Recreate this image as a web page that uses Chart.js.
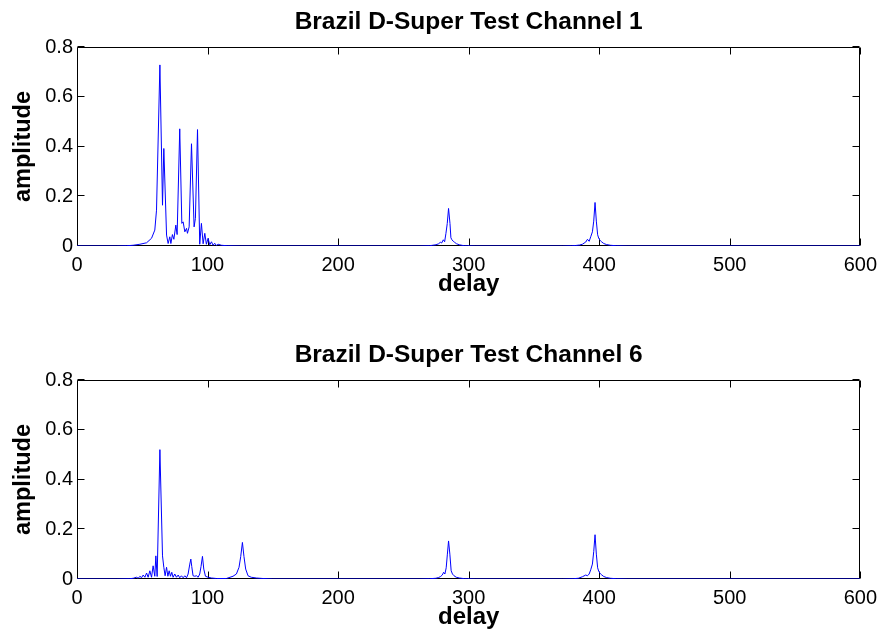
<!DOCTYPE html>
<html>
<head>
<meta charset="utf-8">
<title>Brazil D-Super Test</title>
<script src="https://cdn.jsdelivr.net/npm/chart.js@4.4.1/dist/chart.umd.min.js"></script>
<style>
  html, body { margin: 0; padding: 0; background: #fff; }
  #wrap { position: relative; width: 884px; height: 636px; overflow: hidden; }
  .panel { position: absolute; left: 0; width: 884px; height: 303px; }
  #p1 { top: 0; }
  #p2 { top: 333px; }
</style>
</head>
<body>
<div id="wrap">
  <div class="panel" id="p1"><canvas id="c1" width="884" height="303"></canvas></div>
  <div class="panel" id="p2"><canvas id="c2" width="884" height="303"></canvas></div>
</div>
<script>
// Channel 1 impulse response (delay in samples, amplitude)
const delay1 = [0, 30, 38, 43, 48.2, 53.3, 57.1, 59.6, 60.9, 63.5, 65.5, 66.5, 68.6, 69.8, 71.1, 71.9,
  73.1, 74.2, 75.7, 76.7, 78.7, 80.3, 81.3, 82.6, 83.9, 84.6, 85.9, 87.7, 89.7, 90.7, 92.3, 94,
  95.3, 96.6, 97.9, 99.1, 100.4, 101.7, 103, 104.2, 105.5, 106.8, 108.1, 110.6, 115, 125,
  262, 269.9, 272.4, 275, 277, 278.3, 279.3, 280.6, 281.6, 282.6, 283.6, 284.6, 285.7, 286.4,
  287.2, 288.2, 289.2, 290.7, 292.8, 296.6, 305,
  372, 379, 382, 385, 387.1, 389.7, 391, 392.3, 393.5, 394.8, 395.8, 396.8, 397.8, 398.8, 399.7,
  400.8, 402, 403.5, 405.5, 408.5, 413, 422, 600];
const amp1 = [0, 0, 0.001, 0.003, 0.007, 0.013, 0.031, 0.064, 0.144, 0.728, 0.164, 0.392, 0.044, 0.01, 0.037, 0.01,
  0.046, 0.027, 0.084, 0.046, 0.471, 0.091, 0.097, 0.057, 0.071, 0.051, 0.077, 0.411, 0.077, 0.111, 0.468, 0.007,
  0.091, 0.009, 0.051, 0.007, 0.031, 0.005, 0.017, 0.003, 0.011, 0.002, 0.007, 0.003, 0.001, 0,
  0, 0.001, 0.003, 0.005, 0.009, 0.015, 0.012, 0.025, 0.017, 0.051, 0.09, 0.151, 0.09, 0.033,
  0.025, 0.019, 0.015, 0.009, 0.005, 0.001, 0,
  0, 0.001, 0.002, 0.004, 0.007, 0.016, 0.027, 0.019, 0.037, 0.057, 0.1, 0.175, 0.1, 0.045, 0.03,
  0.022, 0.016, 0.01, 0.006, 0.003, 0.001, 0, 0];

// Channel 6 impulse response
const delay6 = [0, 30, 40, 43.1, 45.6, 46.9, 48.2, 49.4, 50.7, 52, 53.3, 54.5, 55.8, 57.1, 58.3, 59.6,
  60.4, 61.4, 63.5, 65.5, 66.5, 67.5, 68.6, 69.6, 70.6, 71.6, 72.6, 73.6, 74.9, 76.2, 77.5, 78.7,
  80, 81.3, 82.6, 83.9, 85.1, 86.4, 87.2, 87.9, 88.9, 90.2, 91.5, 92.8, 94, 95, 96.1, 97.1, 98.4,
  100.4, 103, 106.8, 114.4, 119.5, 122.1, 124.1, 125.4, 126.7, 127.9, 129.2, 131, 133.5, 137.4, 142.4, 150,
  262, 270, 274.9, 277, 278.5, 279.8, 280.8, 281.8, 282.8, 283.7, 284.6, 285.6, 286.6, 287.6, 288.8,
  290.5, 293, 297, 305,
  372, 380, 384, 387.1, 389.7, 391, 392.3, 393.5, 394.8, 395.8, 396.8, 397.8, 398.8, 399.7, 400.8,
  402, 403.5, 405.5, 408.5, 413, 422, 600];
const amp6 = [0, 0, 0.001, 0.003, 0.007, 0.003, 0.011, 0.005, 0.016, 0.007, 0.024, 0.007, 0.033, 0.007, 0.053, 0.011,
  0.093, 0.01, 0.52, 0.093, 0.047, 0.013, 0.047, 0.011, 0.033, 0.011, 0.027, 0.007, 0.02, 0.007, 0.016, 0.005,
  0.013, 0.005, 0.013, 0.005, 0.02, 0.06, 0.08, 0.05, 0.013, 0.011, 0.013, 0.007, 0.02, 0.05, 0.091, 0.04, 0.011,
  0.007, 0.004, 0.002, 0.002, 0.011, 0.02, 0.047, 0.09, 0.147, 0.09, 0.04, 0.013, 0.007, 0.004, 0.002, 0,
  0, 0.001, 0.003, 0.006, 0.01, 0.016, 0.027, 0.02, 0.045, 0.1, 0.153, 0.1, 0.033, 0.02, 0.013,
  0.007, 0.004, 0.001, 0,
  0, 0.001, 0.003, 0.009, 0.016, 0.013, 0.02, 0.037, 0.06, 0.11, 0.178, 0.1, 0.045, 0.03, 0.022,
  0.016, 0.01, 0.006, 0.003, 0.001, 0, 0];

// Axis ticks
const xTicks = [0, 100, 200, 300, 400, 500, 600];
const yTicks = [0, 0.2, 0.4, 0.6, 0.8];

const FONT = '"Liberation Sans", Arial, Helvetica, sans-serif';

// Closed box with inward-pointing tick marks on all four sides
const boxedAxes = {
  id: 'boxedAxes',
  beforeDatasetsDraw(chart) {
    const { ctx, chartArea: a, scales: { x, y } } = chart;
    const len = 7;
    ctx.save();
    ctx.strokeStyle = '#000';
    ctx.lineWidth = 1;
    ctx.beginPath();
    const L = Math.round(a.left) + 0.5, R = Math.round(a.right) - 0.5;
    const T = Math.round(a.top) + 0.5, B = Math.round(a.bottom) - 0.5;
    ctx.rect(L, T, R - L, B - T);
    xTicks.forEach(v => {
      const px = Math.round(x.getPixelForValue(v)) + 0.5;
      ctx.moveTo(px, B); ctx.lineTo(px, B - len);
      ctx.moveTo(px, T); ctx.lineTo(px, T + len);
    });
    yTicks.forEach(v => {
      const py = Math.round(y.getPixelForValue(v)) - 0.5;
      ctx.moveTo(L, py); ctx.lineTo(L + len, py);
      ctx.moveTo(R, py); ctx.lineTo(R - len, py);
    });
    ctx.stroke();
    ctx.restore();
  }
};

function makeChart(id, title, delays, amps) {
  const pts = delays.map((d, i) => ({ x: d, y: amps[i] }));
  return new Chart(document.getElementById(id), {
    type: 'line',
    data: {
      datasets: [{
        data: pts,
        borderColor: '#0000ff',
        borderWidth: 1,
        pointRadius: 0,
        tension: 0,
        fill: false
      }]
    },
    options: {
      responsive: false,
      devicePixelRatio: 1,
      animation: false,
      parsing: false,
      layout: { padding: { left: 0, right: 22, top: 0, bottom: 0 } },
      plugins: {
        legend: { display: false },
        tooltip: { enabled: false },
        title: {
          display: true,
          fullSize: false,
          text: title,
          color: '#000',
          font: { family: FONT, size: 24.5, weight: 'bold', lineHeight: 1.2 },
          padding: { top: 7.5, bottom: 10.1 }
        }
      },
      scales: {
        x: {
          type: 'linear',
          min: 0, max: 600,
          afterFit(s) { s.height = 57; },
          afterBuildTicks(s) { s.ticks = xTicks.map(v => ({ value: v })); },
          grid: { display: false, drawTicks: false },
          border: { display: false },
          ticks: { color: '#000', padding: 7, maxRotation: 0, font: { family: FONT, size: 20 } },
          title: {
            display: true, text: 'delay', color: '#000',
            font: { family: FONT, size: 24, weight: 'bold', lineHeight: 1.2 },
            padding: { top: 0, bottom: 4.6 }
          }
        },
        y: {
          type: 'linear',
          min: 0, max: 0.8,
          afterFit(s) { s.width = 77; },
          afterBuildTicks(s) { s.ticks = yTicks.map(v => ({ value: v })); },
          grid: { display: false, drawTicks: false },
          border: { display: false },
          ticks: {
            color: '#000', padding: 4, font: { family: FONT, size: 20 },
            callback: v => String(v)
          },
          title: {
            display: true, text: 'amplitude', color: '#000',
            font: { family: FONT, size: 23.5, weight: 'bold', lineHeight: 1.2 },
            padding: { top: 9.5, bottom: 0 }
          }
        }
      }
    },
    plugins: [boxedAxes]
  });
}

makeChart('c1', 'Brazil D-Super Test Channel 1', delay1, amp1);
makeChart('c2', 'Brazil D-Super Test Channel 6', delay6, amp6);
</script>
</body>
</html>
